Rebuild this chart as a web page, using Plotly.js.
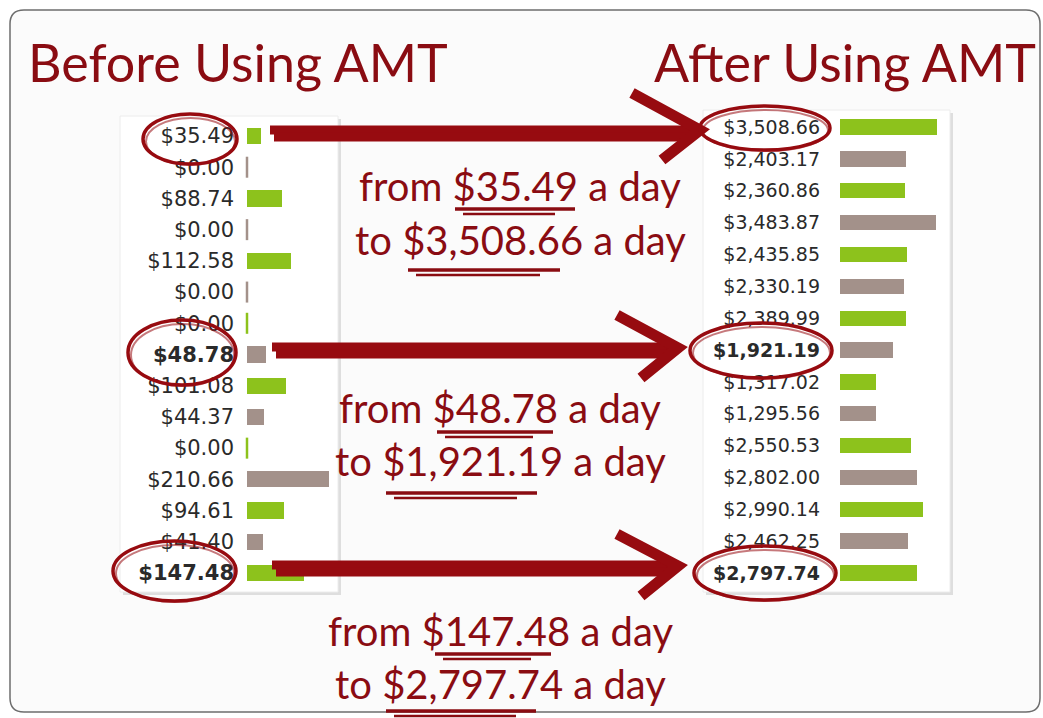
<!DOCTYPE html>
<html>
<head>
<meta charset="utf-8">
<script src="https://cdn.plot.ly/plotly-3.0.1.min.js"></script>
<style>html,body{margin:0;padding:0;background:#fff;}#chart{width:1043px;height:718px;}</style>
</head>
<body>
<div id="chart"></div>
<script>
// ---- data ----
const rowIndex = [0,1,2,3,4,5,6,7,8,9,10,11,12,13,14];
const beforeValues = [35.49, 0.00, 88.74, 0.00, 112.58, 0.00, 0.00, 48.78, 101.08, 44.37, 0.00, 210.66, 94.61, 41.40, 147.48];
const afterValues = [3508.66, 2403.17, 2360.86, 3483.87, 2435.85, 2330.19, 2389.99, 1921.19, 1317.02, 1295.56, 2550.53, 2802.00, 2990.14, 2462.25, 2797.74];
const highlightedRows = [0, 7, 14];
const boldRows = [7, 14];
const panelTitles = ["Before Using AMT", "After Using AMT"];

// ---- helpers ----
const W = 1043, H = 718;
const px = x => x / W;
const py = y => 1 - y / H;
const fmt = v => '$' + v.toLocaleString('en-US', {minimumFractionDigits: 2, maximumFractionDigits: 2});
const GREEN = '#8dc21c', TAUPE = '#a3918a', RED = '#970b10', INK = '#8a0c12';
const barColor = i => (i % 2 === 0 ? GREEN : TAUPE);
const label = (v, i) => boldRows.includes(i) ? '<b>' + fmt(v) + '</b>' : fmt(v);

const zeroRows = rowIndex.filter(i => beforeValues[i] === 0);

const traces = [
  {type: 'bar', orientation: 'h', x: beforeValues, y: rowIndex, xaxis: 'x', yaxis: 'y',
   marker: {color: rowIndex.map(barColor)}, width: 0.52, hoverinfo: 'none'},
  {type: 'scatter', mode: 'markers', x: zeroRows.map(i => beforeValues[i]), y: zeroRows, xaxis: 'x', yaxis: 'y',
   marker: {symbol: 'line-ns', size: 15, line: {width: 2.5, color: zeroRows.map(barColor)}},
   cliponaxis: false, hoverinfo: 'none'},
  {type: 'bar', orientation: 'h', x: afterValues, y: rowIndex, xaxis: 'x2', yaxis: 'y2',
   marker: {color: rowIndex.map(barColor)}, width: 0.48, hoverinfo: 'none'}
];

const axisBase = {showgrid: false, zeroline: false, showline: false, showticklabels: false, fixedrange: true};
const yBase = {showgrid: false, zeroline: false, showline: false, ticks: '', tickmode: 'array', tickvals: rowIndex, fixedrange: true};

const shapes = [];
// outer frame
const fx0 = 10, fy0 = 10, fx1 = 1040, fy1 = 712, r = 14;
shapes.push({type: 'path', xref: 'paper', yref: 'paper', layer: 'below',
  path: `M${px(fx0 + r)},${py(fy0)} L${px(fx1 - r)},${py(fy0)} Q${px(fx1)},${py(fy0)} ${px(fx1)},${py(fy0 + r)} L${px(fx1)},${py(fy1 - r)} Q${px(fx1)},${py(fy1)} ${px(fx1 - r)},${py(fy1)} L${px(fx0 + r)},${py(fy1)} Q${px(fx0)},${py(fy1)} ${px(fx0)},${py(fy1 - r)} L${px(fx0)},${py(fy0 + r)} Q${px(fx0)},${py(fy0)} ${px(fx0 + r)},${py(fy0)} Z`,
  fillcolor: '#fbfbfb', line: {color: '#6d6d6d', width: 1.5}});
// panels with soft shadow
[[120, 116, 338, 592], [703, 110, 950, 592]].forEach(([a, b, c, d]) => {
  shapes.push({type: 'rect', xref: 'paper', yref: 'paper', layer: 'below', x0: px(a + 3), y0: py(b + 3), x1: px(c + 3), y1: py(d + 3),
    fillcolor: '#dedede', line: {width: 0}});
  shapes.push({type: 'rect', xref: 'paper', yref: 'paper', layer: 'below', x0: px(a), y0: py(b), x1: px(c), y1: py(d),
    fillcolor: '#ffffff', line: {color: '#ececec', width: 1}});
});

// arrows
const arrows = [
  {x0: 270, x1: 692, y: 133, tip: [700, 130], up: [632, 93], low: [662, 160]},
  {x0: 272, x1: 670, y: 350, tip: [678, 348], up: [617, 315], low: [641, 378]},
  {x0: 272, x1: 670, y: 568, tip: [678, 566], up: [617, 534], low: [641, 596]}
];
arrows.forEach(a => {
  shapes.push({type: 'line', xref: 'paper', yref: 'paper', layer: 'above', x0: px(a.x0), y0: py(a.y - 3), x1: px(a.x1), y1: py(a.y - 3),
    line: {color: RED, width: 9}});
  shapes.push({type: 'line', xref: 'paper', yref: 'paper', layer: 'above', x0: px(a.x0 + 4), y0: py(a.y + 4), x1: px(a.x1), y1: py(a.y + 4),
    line: {color: RED, width: 9}});
  shapes.push({type: 'path', xref: 'paper', yref: 'paper', layer: 'above',
    path: `M${px(a.up[0])},${py(a.up[1])} L${px(a.tip[0])},${py(a.tip[1])} L${px(a.low[0])},${py(a.low[1])}`,
    line: {color: RED, width: 11}});
});

// ellipses around the highlighted values
const ellipses = [
  [143, 114, 237, 164], [700, 106, 830, 150],
  [128, 320, 236, 385], [690, 323, 832, 378],
  [113, 541, 236, 601], [694, 546, 836, 600]
];
ellipses.forEach(([a, b, c, d]) => {
  shapes.push({type: 'circle', xref: 'paper', yref: 'paper', layer: 'above', x0: px(a), y0: py(b), x1: px(c), y1: py(d),
    line: {color: RED, width: 3.5}});
  shapes.push({type: 'circle', xref: 'paper', yref: 'paper', layer: 'above', x0: px(a + 3), y0: py(b + 4), x1: px(c - 2), y1: py(d + 1),
    line: {color: 'rgba(151,11,16,0.55)', width: 2}});
});

// underlines
const underlines = [
  [455, 575, 209], [408, 560, 270],
  [437, 553, 432], [386, 537, 493],
  [435, 551, 654], [386, 536, 711]
];
underlines.forEach(([a, b, y]) => {
  shapes.push({type: 'line', xref: 'paper', yref: 'paper', layer: 'above', x0: px(a), y0: py(y), x1: px(b), y1: py(y),
    line: {color: INK, width: 3.5}});
  shapes.push({type: 'line', xref: 'paper', yref: 'paper', layer: 'above', x0: px(a + 8), y0: py(y + 5), x1: px(b - 20), y1: py(y + 5),
    line: {color: INK, width: 2.5}});
});

// annotations
const hand = {family: 'Lato, "Open Sans", sans-serif', color: INK};
const annotations = [
  {text: panelTitles[0], x: px(238), y: py(62), font: Object.assign({size: 52}, hand)},
  {text: panelTitles[1], x: px(845), y: py(62), font: Object.assign({size: 52}, hand)}
];
const calloutPos = [[520, 186, 520, 240], [500, 408, 500, 461], [500, 631, 500, 684]];
highlightedRows.forEach((ri, k) => {
  const p = calloutPos[k];
  annotations.push({text: 'from ' + fmt(beforeValues[ri]) + ' a day', x: px(p[0]), y: py(p[1]), font: Object.assign({size: 40}, hand)});
  annotations.push({text: 'to ' + fmt(afterValues[ri]) + ' a day', x: px(p[2]), y: py(p[3]), font: Object.assign({size: 40}, hand)});
});
annotations.forEach(a => Object.assign(a, {xref: 'paper', yref: 'paper', showarrow: false, xanchor: 'center', yanchor: 'middle'}));

const layout = {
  width: W, height: H,
  margin: {l: 0, r: 0, t: 0, b: 0},
  paper_bgcolor: '#ffffff', plot_bgcolor: 'rgba(0,0,0,0)',
  showlegend: false, bargap: 0,
  xaxis: Object.assign({}, axisBase, {domain: [px(247), px(337)], range: [0, 231], anchor: 'y'}),
  yaxis: Object.assign({}, yBase, {domain: [py(588.6), py(120.4)], range: [14.5, -0.5], anchor: 'x',
    ticktext: beforeValues.map(label), ticklabelstandoff: 12,
    tickfont: {family: 'DejaVu Sans', size: 21, color: '#2a2a2a'}}),
  xaxis2: Object.assign({}, axisBase, {domain: [px(840), px(945)], range: [0, 3798], anchor: 'y2'}),
  yaxis2: Object.assign({}, yBase, {domain: [py(588.9), py(111.1)], range: [14.5, -0.5], anchor: 'x2',
    ticktext: afterValues.map(label), ticklabelstandoff: 19,
    tickfont: {family: 'DejaVu Sans', size: 19, color: '#2a2a2a'}}),
  shapes: shapes,
  annotations: annotations
};

Plotly.newPlot('chart', traces, layout, {staticPlot: true, displayModeBar: false});
</script>
</body>
</html>
